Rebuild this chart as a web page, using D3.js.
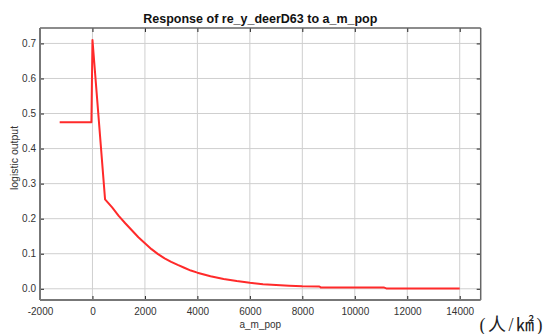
<!DOCTYPE html>
<html>
<head>
<meta charset="utf-8">
<script src="https://cdn.jsdelivr.net/npm/d3@7"></script>
<style>
  body { margin: 0; background: #fff; }
  svg { display: block; }
</style>
</head>
<body>
<svg id="chart" width="545" height="334"></svg>
<script>
// response curve
const popValues = [-1250, -40, 0, 480, 750, 1000, 1250, 1500, 1750, 2000, 2250, 2500, 2750,
  3000, 3250, 3500, 3750, 4000, 4500, 5000, 5500, 6000, 6500, 7000, 7500, 8000, 8650, 8700,
  11100, 11200, 14000];
const outputValues = [0.475, 0.475, 0.71, 0.255, 0.232, 0.208, 0.187, 0.167, 0.147, 0.13, 0.113,
  0.099, 0.087, 0.077, 0.068, 0.06, 0.052, 0.046, 0.036, 0.028, 0.022, 0.017, 0.013, 0.0105,
  0.0085, 0.007, 0.0065, 0.004, 0.004, 0.001, 0.001];
const xTicks = [-2000, 0, 2000, 4000, 6000, 8000, 10000, 12000, 14000];
const yTicks = [0, 0.1, 0.2, 0.3, 0.4, 0.5, 0.6, 0.7];

var svg = d3.select('#chart');
var box = { l: 40, r: 480.7, t: 28, b: 300 };

var x = d3.scaleLinear().domain([-2000, 14800]).range([box.l, box.r]);
var y = d3.scaleLinear().domain([-0.032, 0.744]).range([box.b, box.t]);

// grid
var grid = svg.append('g');
grid.selectAll('.vg').data(xTicks).enter().append('line')
  .attr('x1', d => x(d)).attr('x2', d => x(d))
  .attr('y1', box.t).attr('y2', box.b)
  .attr('stroke', '#cfcfcf').attr('stroke-width', 1);
grid.selectAll('.hg').data(yTicks).enter().append('line')
  .attr('x1', box.l).attr('x2', box.r)
  .attr('y1', d => y(d)).attr('y2', d => y(d))
  .attr('stroke', '#cfcfcf').attr('stroke-width', 1);

// axes, ticks pointing inward
function styleAxis(g) {
  g.select('.domain').remove();
  g.selectAll('line').attr('stroke', '#222');
  g.selectAll('text').attr('fill', '#333')
    .style('font-family', 'Liberation Sans, Arial, sans-serif').style('font-size', '10px');
}
svg.append('g').attr('transform', `translate(0,${box.b})`)
  .call(d3.axisBottom(x).tickValues(xTicks).tickSize(-4).tickPadding(8).tickFormat(d => String(d)))
  .call(styleAxis);
svg.append('g').attr('transform', `translate(0,${box.t})`)
  .call(d3.axisTop(x).tickValues(xTicks).tickSize(-4).tickFormat(''))
  .call(styleAxis);
svg.append('g').attr('transform', `translate(${box.l},0)`)
  .call(d3.axisLeft(y).tickValues(yTicks).tickSize(-4).tickPadding(4).tickFormat(d => d.toFixed(1)))
  .call(styleAxis);
svg.append('g').attr('transform', `translate(${box.r},0)`)
  .call(d3.axisRight(y).tickValues(yTicks).tickSize(-4).tickFormat(''))
  .call(styleAxis);

// frame
svg.append('line').attr('x1', box.l).attr('x2', box.r).attr('y1', box.t).attr('y2', box.t)
  .attr('stroke', '#666').attr('stroke-width', 1.5);
svg.append('line').attr('x1', box.r).attr('x2', box.r).attr('y1', box.t).attr('y2', box.b)
  .attr('stroke', '#666').attr('stroke-width', 1.5);
svg.append('line').attr('x1', box.l).attr('x2', box.l).attr('y1', box.t).attr('y2', box.b)
  .attr('stroke', '#777').attr('stroke-width', 2);
svg.append('line').attr('x1', box.l).attr('x2', box.r).attr('y1', box.b).attr('y2', box.b)
  .attr('stroke', '#777').attr('stroke-width', 2);

// curve
var pts = popValues.map((p, i) => [p, outputValues[i]]);
var line = d3.line().x(d => x(d[0])).y(d => y(d[1]));
svg.append('path').datum(pts)
  .attr('d', line)
  .attr('fill', 'none')
  .attr('stroke', '#ff2a2a')
  .attr('stroke-width', 2)
  .attr('stroke-linejoin', 'round');

// texts
svg.append('text').text('Response of re_y_deerD63 to a_m_pop')
  .attr('x', (box.l + box.r) / 2).attr('y', 23)
  .attr('text-anchor', 'middle')
  .style('font-family', 'Liberation Sans, Arial, sans-serif')
  .style('font-size', '12.5px').style('font-weight', 'bold').attr('fill', '#111');

svg.append('text').text('a_m_pop')
  .attr('x', (box.l + box.r) / 2).attr('y', 328)
  .attr('text-anchor', 'middle')
  .style('font-family', 'Liberation Sans, Arial, sans-serif')
  .style('font-size', '10px').attr('fill', '#333');

svg.append('text').text('logistic output')
  .attr('transform', 'translate(18,158) rotate(-90)')
  .attr('text-anchor', 'middle')
  .style('font-family', 'Liberation Sans, Arial, sans-serif')
  .style('font-size', '10.5px').attr('fill', '#333');

svg.append('text').text('(人/㎢)')
  .attr('x', 545).attr('y', 331)
  .attr('text-anchor', 'end')
  .style('font-family', '"Liberation Serif", "Noto Sans CJK SC", serif')
  .style('font-size', '18px').style('letter-spacing', '2.5px').attr('fill', '#222');
</script>
</body>
</html>
